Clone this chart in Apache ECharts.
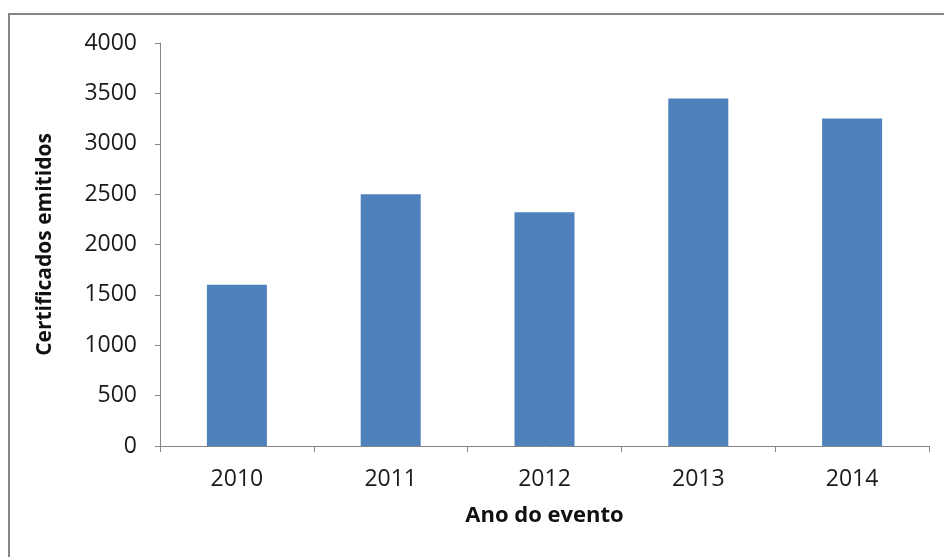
<!DOCTYPE html>
<html>
<head>
<meta charset="utf-8">
<script src="https://cdn.jsdelivr.net/npm/echarts@6/dist/echarts.min.js"></script>
<style>
html,body{margin:0;padding:0;background:#fff;}
#chart{width:944px;height:557px;}
</style>
</head>
<body>
<div id="chart"></div>
<script>
var categories = ['2010', '2011', '2012', '2013', '2014'];
var certificados = [1600, 2500, 2320, 3450, 3250];
var yTicks = [0, 500, 1000, 1500, 2000, 2500, 3000, 3500, 4000];

var chart = echarts.init(document.getElementById('chart'), null, {renderer: 'canvas'});
var font = 'Open Sans';
chart.setOption({
  animation: false,
  backgroundColor: '#ffffff',
  graphic: [{
    type: 'rect',
    shape: {x: 9, y: 14, width: 1200, height: 1200},
    style: {fill: 'none', stroke: '#868686', lineWidth: 2},
    silent: true
  }],
  grid: {left: 160, right: 15, top: 43, bottom: 111, containLabel: false},
  xAxis: {
    type: 'category',
    data: categories,
    name: 'Ano do evento',
    nameLocation: 'middle',
    nameGap: 59,
    nameTextStyle: {fontFamily: font, fontSize: 22, fontWeight: 'bold', color: '#111'},
    axisLine: {lineStyle: {color: '#868686', width: 1}},
    axisTick: {show: true, length: 6, lineStyle: {color: '#868686'}},
    axisLabel: {fontFamily: font, fontSize: 23, color: '#1a1a1a', margin: 22}
  },
  yAxis: {
    type: 'value',
    min: yTicks[0],
    max: yTicks[yTicks.length - 1],
    interval: yTicks[1] - yTicks[0],
    name: 'Certificados emitidos',
    nameLocation: 'middle',
    nameGap: 104,
    nameTextStyle: {fontFamily: font, fontSize: 21, fontWeight: 'bold', color: '#111'},
    axisLine: {show: true, lineStyle: {color: '#868686', width: 1}},
    axisTick: {show: true, length: 5, lineStyle: {color: '#868686'}},
    splitLine: {show: false},
    axisLabel: {
      fontFamily: font, fontSize: 23, color: '#1a1a1a', margin: 23,
      formatter: function (v) { return String(v); }
    }
  },
  series: [{
    type: 'bar',
    data: certificados,
    barWidth: 60,
    itemStyle: {color: '#4F81BD'}
  }]
});
</script>
</body>
</html>
